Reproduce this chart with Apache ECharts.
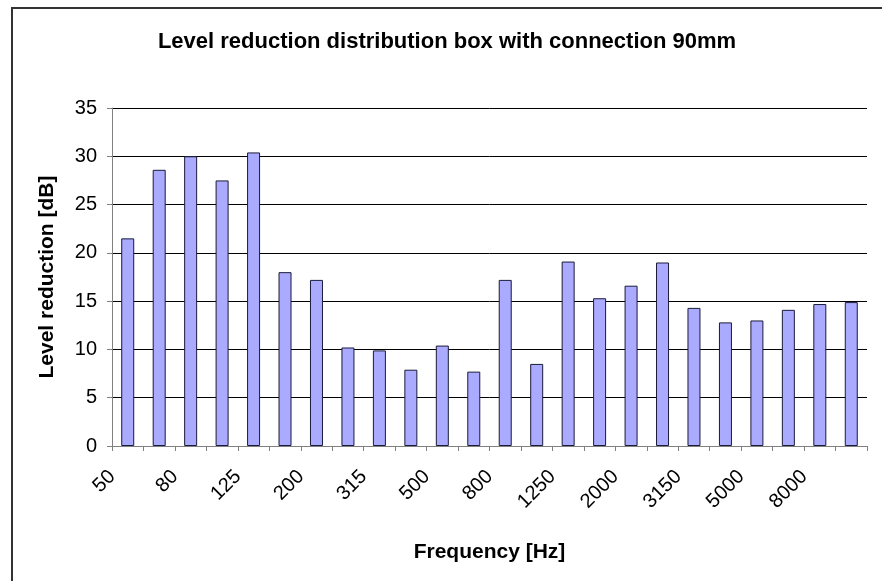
<!DOCTYPE html>
<html>
<head>
<meta charset="utf-8">
<script src="https://cdn.jsdelivr.net/npm/echarts@6/dist/echarts.min.js"></script>
<style>
  html, body { margin: 0; padding: 0; background: #fff; }
  #chart { width: 882px; height: 581px; }
</style>
</head>
<body>
<div id="chart"></div>
<script>
// Third-octave band centre frequencies (Hz)
const frequencies = ['50', '63', '80', '100', '125', '160', '200', '250', '315', '400', '500', '630',
  '800', '1000', '1250', '1600', '2000', '2500', '3150', '4000', '5000', '6300', '8000', '10000'];

// Level reduction per band (dB)
const levelReduction = [21.5, 28.6, 30.0, 27.5, 30.4, 18.0, 17.2, 10.2, 9.9, 7.9, 10.4, 7.7,
  17.2, 8.5, 19.1, 15.3, 16.6, 19.0, 14.3, 12.8, 13.0, 14.1, 14.7, 14.9];

const yMin = 0, yMax = 35, yStep = 5;

const FONT = "'Liberation Sans', Arial, sans-serif";

const chart = echarts.init(document.getElementById('chart'), null, { renderer: 'canvas' });

chart.setOption({
  backgroundColor: '#ffffff',
  animation: false,
  title: {
    text: 'Level reduction distribution box with connection 90mm',
    left: 442,
    top: 26,
    textAlign: 'center',
    textStyle: { fontFamily: FONT, fontSize: 22, fontWeight: 'bold', color: '#000' }
  },
  graphic: [{
    type: 'rect',
    shape: { x: 12, y: 8, width: 900, height: 600 },
    style: { fill: 'none', stroke: '#333', lineWidth: 2 },
    silent: true,
    z: -1
  }],
  grid: { left: 112, right: 15, top: 108, bottom: 135, containLabel: false },
  xAxis: {
    type: 'category',
    data: frequencies,
    boundaryGap: true,
    name: 'Frequency [Hz]',
    nameLocation: 'middle',
    nameGap: 96,
    nameTextStyle: { fontFamily: FONT, fontSize: 21, fontWeight: 'bold', color: '#000', verticalAlign: 'top' },
    axisLine: { show: true, lineStyle: { color: '#808080', width: 1 } },
    axisTick: { show: true, interval: 0, length: 5, lineStyle: { color: '#808080' } },
    axisLabel: {
      interval: 1,
      rotate: 45,
      margin: 12,
      padding: [0, 22, 0, 0],
      fontFamily: FONT, fontSize: 20, color: '#000'
    },
    splitLine: { show: false }
  },
  yAxis: {
    type: 'value',
    min: yMin, max: yMax, interval: yStep,
    name: 'Level reduction [dB]',
    nameLocation: 'middle',
    nameGap: 54,
    nameTextStyle: { fontFamily: FONT, fontSize: 21, fontWeight: 'bold', color: '#000' },
    axisLine: { show: true, lineStyle: { color: '#808080', width: 1 } },
    axisTick: { show: true, length: 5, lineStyle: { color: '#808080' } },
    axisLabel: { margin: 15, fontFamily: FONT, fontSize: 20, color: '#000' },
    splitLine: { show: true, lineStyle: { color: '#000', width: 1 } }
  },
  series: [{
    type: 'bar',
    data: levelReduction,
    barWidth: 13,
    itemStyle: { color: '#AAAAFF', borderColor: '#1a1a3a', borderWidth: 1 }
  }]
});
</script>
</body>
</html>
